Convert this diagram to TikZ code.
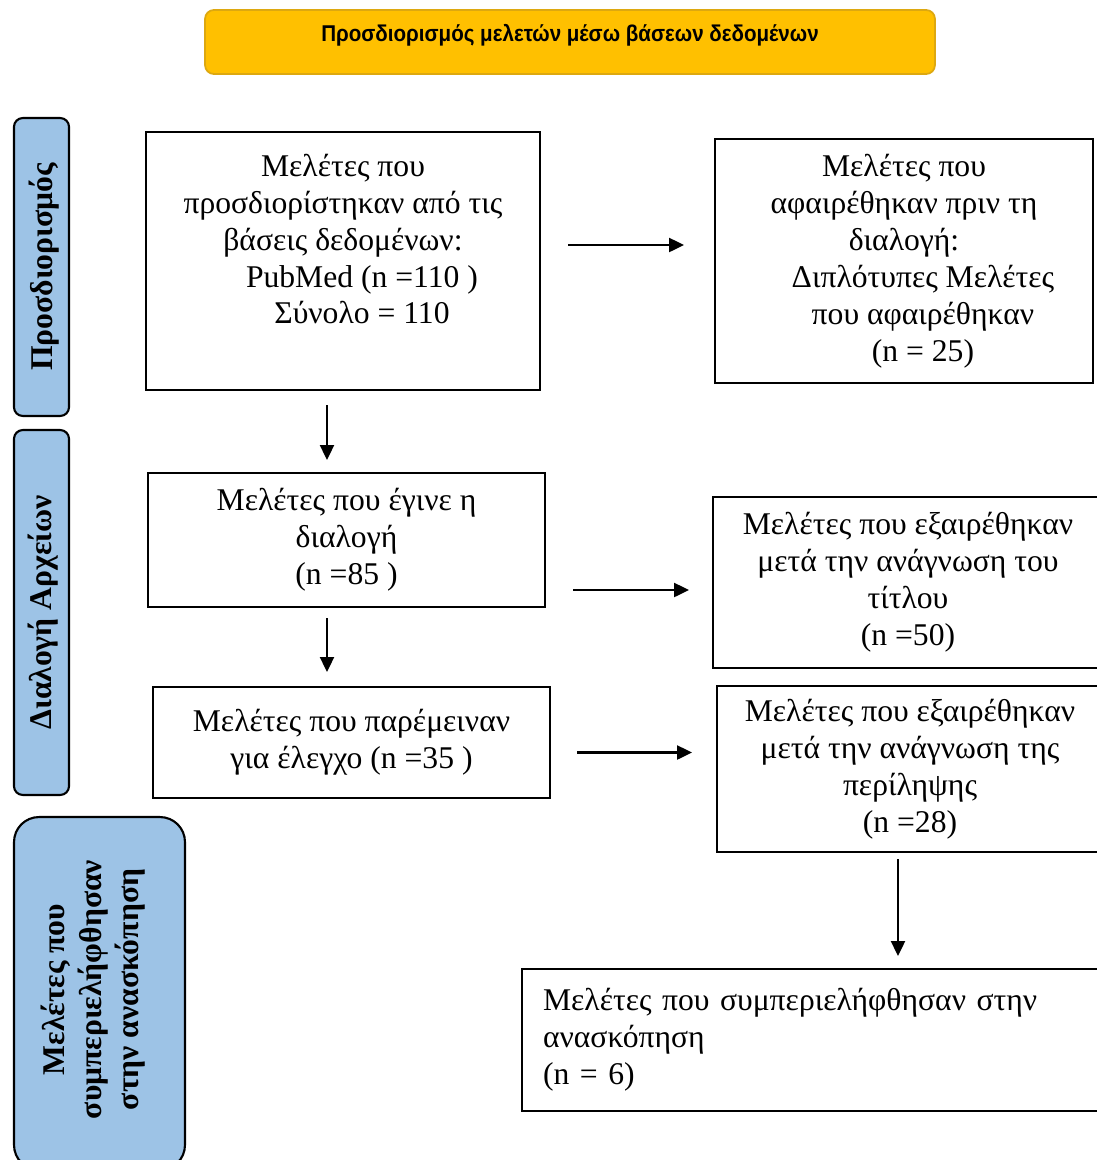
\documentclass[tikz,border=0pt]{standalone}
\usepackage{fontspec}
\setmainfont{Liberation Serif}
\newfontfamily\hdrfont[FakeStretch=0.9]{Liberation Sans}
\usepackage{xcolor}
\usetikzlibrary{positioning,calc,arrows.meta}

\definecolor{hdryellow}{HTML}{FFC000}
\definecolor{hdrline}{HTML}{DDA810}
\definecolor{sideblue}{HTML}{9DC3E6}

\tikzset{
    box/.style={draw, line width=1.2pt, inner sep=0pt, align=center, font=\fontsize{18}{21}\selectfont},
    sidebox/.style={draw, line width=1.2pt, rounded corners=5pt, fill=sideblue, inner sep=0pt},
    sidetext/.style={rotate=90, align=center, font=\bfseries\fontsize{18}{21}\selectfont},
    arr/.style={-{Triangle[length=8.5pt,width=8pt]}, line width=1.2pt},
}

\begin{document}
\begin{tikzpicture}[x=0.02cm, y=-0.02cm]
    \useasboundingbox (0,0) rectangle (1097,1160);
    \clip (0,0) rectangle (1097,1160);

    % header
    \node[draw=hdrline, fill=hdryellow, line width=1pt, rounded corners=5pt,
          minimum width=14.6cm, minimum height=1.28cm] (hdr) at (570,42) {};
    \node[font=\hdrfont\bfseries\fontsize{13}{15}\selectfont] (hdrtext) at (570,35)
        {Προσδιορισμός μελετών μέσω βάσεων δεδομένων};

    % side labels
    \node[sidebox, minimum width=1.1cm, minimum height=5.96cm] (side1) at (41.5,267) {};
    \node[sidetext] (side1text) at ($(side1)+(3,0)$) {Προσδιορισμός};
    \node[sidebox, minimum width=1.1cm, minimum height=7.3cm] (side2) at (41.5,612.5) {};
    \node[sidetext] (side2text) at ($(side2)+(2,0)$) {Διαλογή Αρχείων};
    \node[sidebox, rounded corners=0.5cm, minimum width=3.42cm, minimum height=7.06cm] (side3) at (99.5,993.5) {};
    \node[sidetext] (side3text) at ($(side3)+(-6,-4)$) {Μελέτες που\\ συμπεριελήφθησαν\\ στην ανασκόπηση};

    % boxes
    \node[box, minimum width=7.88cm, minimum height=5.16cm] (ident) at (343,261)
        {Μελέτες που\\ προσδιορίστηκαν από τις\\ βάσεις δεδομένων:\\
         \hspace*{1.2em}PubMed (n =110 )\\ \hspace*{1.2em}Σύνολο = 110\\[4pt] \mbox{}};
    \node[box, minimum width=7.56cm, minimum height=4.88cm] (removed) at (904,261)
        {Μελέτες που\\ αφαιρέθηκαν πριν τη\\ διαλογή:\\
         \hspace*{1.2em}Διπλότυπες Μελέτες\\ \hspace*{1.2em}που αφαιρέθηκαν\\ \hspace*{1.2em}(n = 25)};
    \node[box, minimum width=7.94cm, minimum height=2.68cm] (screened) at (346.5,540)
        {Μελέτες που έγινε η\\ διαλογή\\ (n =85 )};
    \node[box, minimum width=7.8cm, minimum height=3.42cm] (extitle) at (908,582.5)
        {Μελέτες που εξαιρέθηκαν\\ μετά την ανάγνωση του\\ τίτλου\\ (n =50)};
    \node[box, minimum width=7.94cm, minimum height=2.22cm] (assessed) at (351.5,742.5)
        {Μελέτες που παρέμειναν\\ για έλεγχο (n =35 )};
    \node[box, minimum width=7.72cm, minimum height=3.32cm] (exabstract) at (910,769)
        {Μελέτες που εξαιρέθηκαν\\ μετά την ανάγνωση της\\ περίληψης\\ (n =28)};
    \node[box, align=left, inner xsep=0.42cm, text width=10.92cm, minimum height=2.84cm] (included) at (816,1040)
        {Μελέτες που συμπεριελήφθησαν στην\\ ανασκόπηση\\ (n = 6)};

    % arrows
    \path ($(ident.east)+(0,-16)$) coordinate (p1);
    \draw[arr, shorten <=0.54cm, shorten >=0.6cm] (p1) -- (p1 -| removed.west);
    \path ($(ident.south)+(-16,0)$) coordinate (p2);
    \draw[arr, shorten <=0.28cm, shorten >=0.24cm] (p2) -- (p2 |- screened.north);
    \path ($(screened.east)+(0,50)$) coordinate (p3);
    \draw[arr, shorten <=0.54cm, shorten >=0.46cm] (p3) -- (p3 -| extitle.west);
    \path ($(screened.south)+(-19.5,0)$) coordinate (p4);
    \draw[arr, shorten <=0.2cm, shorten >=0.28cm] (p4) -- (p4 |- assessed.north);
    \path ($(assessed.east)+(0,10)$) coordinate (p5);
    \draw[arr, shorten <=0.52cm, shorten >=0.48cm] (p5) -- (p5 -| exabstract.west);
    \path ($(exabstract.south)+(-12,0)$) coordinate (p6);
    \draw[arr, shorten <=0.12cm, shorten >=0.24cm] (p6) -- (p6 |- included.north);
\end{tikzpicture}
\end{document}
